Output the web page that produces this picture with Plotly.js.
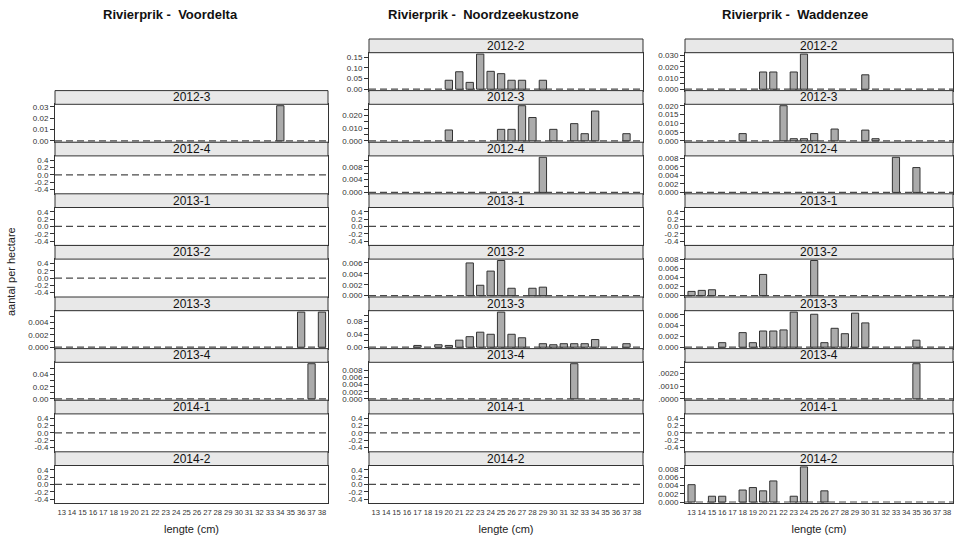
<!DOCTYPE html>
<html><head><meta charset="utf-8">
<script src="https://cdn.plot.ly/plotly-3.0.1.min.js"></script>
<style>body{margin:0;padding:0;background:#fff}#chart{width:965px;height:547px}</style>
</head><body><div id="chart"></div>
<script>
// ---------- data ----------
const lengte = [13,14,15,16,17,18,19,20,21,22,23,24,25,26,27,28,29,30,31,32,33,34,35,36,37,38];
const periods = ["2012-2","2012-3","2012-4","2013-1","2013-2","2013-3","2013-4","2014-1","2014-2"];
const gebieden = ["Rivierprik -  Voordelta","Rivierprik -  Noordzeekustzone","Rivierprik -  Waddenzee"];
const empty = [0,0,0,0,0,0,0,0,0,0,0,0,0,0,0,0,0,0,0,0,0,0,0,0,0,0];

// Voordelta
const vd_2012_3 = [0,0,0,0,0,0,0,0,0,0,0,0,0,0,0,0,0,0,0,0,0,0.031,0,0,0,0];
const vd_2013_3 = [0,0,0,0,0,0,0,0,0,0,0,0,0,0,0,0,0,0,0,0,0,0,0,0.0057,0,0.0057];
const vd_2013_4 = [0,0,0,0,0,0,0,0,0,0,0,0,0,0,0,0,0,0,0,0,0,0,0,0,0.058,0];
// Noordzeekustzone
const nz_2012_2 = [0,0,0,0,0,0,0,0.042,0.082,0.032,0.165,0.084,0.073,0.042,0.042,0,0.042,0,0,0,0,0,0,0,0,0];
const nz_2012_3 = [0,0,0,0,0,0,0,0.0085,0,0,0,0,0.009,0.009,0.0276,0.0183,0,0.009,0,0.0135,0.0056,0.0234,0,0,0.0056,0];
const nz_2012_4 = [0,0,0,0,0,0,0,0,0,0,0,0,0,0,0,0,0.011,0,0,0,0,0,0,0,0,0];
const nz_2013_2 = [0,0,0,0,0,0,0,0,0,0.006,0.0019,0.0045,0.00645,0.00135,0,0.00135,0.00155,0,0,0,0,0,0,0,0,0];
const nz_2013_3 = [0,0,0,0,0.0055,0,0.0077,0.0055,0.022,0.033,0.047,0.0405,0.11,0.0405,0.0296,0,0.011,0.0077,0.011,0.011,0.011,0.024,0,0,0.011,0];
const nz_2013_4 = [0,0,0,0,0,0,0,0,0,0,0,0,0,0,0,0,0,0,0,0.0099,0,0,0,0,0,0];
// Waddenzee
const wz_2012_2 = [0,0,0,0,0,0,0,0.0153,0.0153,0,0.0153,0.0312,0,0,0,0,0,0.0128,0,0,0,0,0,0,0,0];
const wz_2012_3 = [0,0,0,0,0,0.0041,0,0,0,0.020,0.0012,0.0012,0.0041,0,0.0067,0,0,0.0061,0.0012,0,0,0,0,0,0,0];
const wz_2012_4 = [0,0,0,0,0,0,0,0,0,0,0,0,0,0,0,0,0,0,0,0,0.0082,0,0.0058,0,0,0];
const wz_2013_2 = [0.00093,0.00116,0.0013,0,0,0,0,0.0047,0,0,0,0,0.0078,0,0,0,0,0,0,0,0,0,0,0,0,0];
const wz_2013_3 = [0,0,0,0.00084,0,0.0027,0.00084,0.003,0.003,0.0032,0.0065,0,0.0061,0.00084,0.0035,0.0025,0.0063,0.0045,0,0,0,0,0.0013,0,0,0];
const wz_2013_4 = [0,0,0,0,0,0,0,0,0,0,0,0,0,0,0,0,0,0,0,0,0,0,0.00276,0,0,0];
const wz_2014_2 = [0.0042,0,0.0014,0.0014,0,0.0029,0.0035,0.0027,0.0051,0,0.0014,0.0085,0,0.0027,0,0,0,0,0,0,0,0,0,0,0,0];

// tick labels (one entry per tick, "" = unlabeled tick)
const tk_empty = ["-0.4","-0.2","0.0","0.2","0.4"];
const tk_vd_2012_3 = ["0.00","0.01","0.02","0.03"];
const tk_vd_2013_3 = ["0.000","","0.002","","0.004",""];
const tk_vd_2013_4 = ["0.00","","0.02","","0.04",""];
const tk_nz_2012_2 = ["0.00","0.05","0.10","0.15"];
const tk_nz_2012_3 = ["0.000","","0.010","","0.020",""];
const tk_nz_2012_4 = ["0.000","","0.004","","0.008",""];
const tk_nz_2013_2 = ["0.000","0.002","0.004","0.006"];
const tk_nz_2013_3 = ["0.00","","0.04","","0.08",""];
const tk_nz_2013_4 = ["0.000","0.002","0.004","0.006","0.008"];
const tk_wz_2012_2 = ["0.000","","0.010","","0.020","","0.030"];
const tk_wz_2012_3 = ["0.000","0.005","0.010","0.015","0.020"];
const tk_wz_2012_4 = ["0.000","0.002","0.004","0.006","0.008"];
const tk_wz_2013_2 = ["0.000","0.002","0.004","0.006","0.008"];
const tk_wz_2013_3 = ["0.000","0.002","0.004","0.006"];
const tk_wz_2013_4 = [".0000","",".0010","",".0020",""];
const tk_wz_2014_2 = ["0.000","0.002","0.004","0.006","0.008"];

// [column, row, values, tick labels, tick step]
const panels = [
  [0,1,vd_2012_3,tk_vd_2012_3,0.01],
  [0,2,empty,tk_empty,0.2],
  [0,3,empty,tk_empty,0.2],
  [0,4,empty,tk_empty,0.2],
  [0,5,vd_2013_3,tk_vd_2013_3,0.001],
  [0,6,vd_2013_4,tk_vd_2013_4,0.01],
  [0,7,empty,tk_empty,0.2],
  [0,8,empty,tk_empty,0.2],
  [1,0,nz_2012_2,tk_nz_2012_2,0.05],
  [1,1,nz_2012_3,tk_nz_2012_3,0.005],
  [1,2,nz_2012_4,tk_nz_2012_4,0.002],
  [1,3,empty,tk_empty,0.2],
  [1,4,nz_2013_2,tk_nz_2013_2,0.002],
  [1,5,nz_2013_3,tk_nz_2013_3,0.02],
  [1,6,nz_2013_4,tk_nz_2013_4,0.002],
  [1,7,empty,tk_empty,0.2],
  [1,8,empty,tk_empty,0.2],
  [2,0,wz_2012_2,tk_wz_2012_2,0.005],
  [2,1,wz_2012_3,tk_wz_2012_3,0.005],
  [2,2,wz_2012_4,tk_wz_2012_4,0.002],
  [2,3,empty,tk_empty,0.2],
  [2,4,wz_2013_2,tk_wz_2013_2,0.002],
  [2,5,wz_2013_3,tk_wz_2013_3,0.002],
  [2,6,wz_2013_4,tk_wz_2013_4,0.0005],
  [2,7,empty,tk_empty,0.2],
  [2,8,wz_2014_2,tk_wz_2014_2,0.002]
];

// ---------- layout geometry ----------
const W = 965, H = 547;
const colPx = [[55,328],[369,643],[685,953]];
const titleX = [170,483,795];
const rowTop0 = 39, rowH = 51.6, stripH = 13.7;
const py = p => 1 - p / H;
const tickFamily = "Liberation Sans Narrow, Arial Narrow, Liberation Sans, Arial, sans-serif";
const textFamily = "Liberation Sans, Arial, sans-serif";

const data = [];
const layout = {
  width: W, height: H,
  margin: {l:0, r:0, t:0, b:0},
  paper_bgcolor: "#ffffff", plot_bgcolor: "#ffffff",
  showlegend: false,
  bargap: 0,
  shapes: [], annotations: []
};

panels.forEach((p, i) => {
  const [c, r, vals, tks, step] = p;
  const k = i + 1;
  const xn = k === 1 ? "x" : "x" + k, yn = k === 1 ? "y" : "y" + k;
  const xa = k === 1 ? "xaxis" : "xaxis" + k, ya = k === 1 ? "yaxis" : "yaxis" + k;
  const top = rowTop0 + r * rowH;
  const [l, rr] = colPx[c];
  const mx = Math.max(...vals);
  const isEmpty = mx === 0;
  const yr = isEmpty ? [-0.52, 0.52] : [-0.04 * mx, 1.04 * mx];
  const t0 = isEmpty ? -0.4 : 0;
  const tv = tks.map((_, j) => +(t0 + j * step).toFixed(6));

  const xs = [], ys = [];
  vals.forEach((v, j) => { if (v > 0) { xs.push(lengte[j]); ys.push(v); } });
  data.push({
    type: "bar", x: xs, y: ys, xaxis: xn, yaxis: yn, width: 0.7,
    marker: {color: "#ababab", line: {color: "#333333", width: 1}},
    hoverinfo: "skip", showlegend: false
  });

  const bottomRow = r === 8;
  layout[xa] = {
    domain: [l / W, rr / W], range: [12.36, 38.58], anchor: yn,
    showline: true, mirror: true, linecolor: "#333333", linewidth: 1,
    showgrid: false, zeroline: false, ticks: "",
    tickvals: lengte, ticktext: lengte.map(String), tickangle: 0,
    showticklabels: bottomRow, ticklabelstandoff: 1,
    tickfont: {family: textFamily, size: 7.6, color: "#333333"},
    fixedrange: true
  };
  if (bottomRow) {
    layout[xa].title = {text: "lengte (cm)", font: {family: textFamily, size: 11, color: "#222222"}, standoff: 9};
  }
  layout[ya] = {
    domain: [py(top + rowH), py(top + stripH)], range: yr, anchor: xn,
    showline: true, mirror: true, linecolor: "#333333", linewidth: 1,
    showgrid: false, zeroline: false,
    ticks: "outside", ticklen: 4, tickwidth: 1, tickcolor: "#333333",
    tickvals: tv, ticktext: tks,
    tickfont: {family: tickFamily, size: 8, color: "#333333"},
    fixedrange: true
  };
  // strip
  layout.shapes.push({
    type: "rect", xref: "paper", yref: "paper",
    x0: l / W, x1: rr / W, y0: py(top + stripH), y1: py(top),
    fillcolor: "#e8e8e8", line: {color: "#333333", width: 1}, layer: "above"
  });
  layout.annotations.push({
    xref: "paper", yref: "paper", x: (l + rr) / 2 / W, y: py(top + stripH / 2),
    text: periods[r], showarrow: false, xanchor: "center", yanchor: "middle",
    font: {family: textFamily, size: 12, color: "#111111"}
  });
  // dashed zero line
  layout.shapes.push({
    type: "line", xref: xn + " domain", yref: yn, x0: 0, x1: 1, y0: 0, y1: 0,
    line: {color: "#4a4a4a", width: 1.2, dash: "7px,4px"}, layer: "below"
  });
});

// column titles
gebieden.forEach((g, c) => {
  layout.annotations.push({
    xref: "paper", yref: "paper", x: titleX[c] / W, y: py(14),
    text: "<b>" + g + "</b>", showarrow: false, xanchor: "center", yanchor: "middle",
    font: {family: textFamily, size: 13, color: "#111111"}
  });
});
// shared y title
layout.annotations.push({
  xref: "paper", yref: "paper", x: 11 / W, y: py(272),
  text: "aantal per hectare", showarrow: false, textangle: -90,
  xanchor: "center", yanchor: "middle",
  font: {family: textFamily, size: 11, color: "#222222"}
});

Plotly.newPlot("chart", data, layout, {staticPlot: true, displayModeBar: false});
</script></body></html>
